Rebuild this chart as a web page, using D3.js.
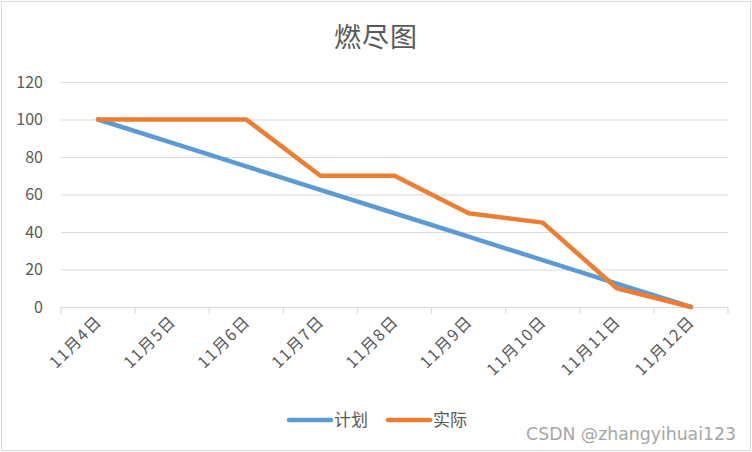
<!DOCTYPE html>
<html>
<head>
    <meta charset="utf-8">
    <title>燃尽图</title>
    <script src="https://d3js.org/d3.v7.min.js" charset="utf-8"></script>
    <style>
        body { margin: 0; background: #fff; }
        text { font-family: "Microsoft YaHei", "Noto Sans CJK SC", sans-serif; }
    </style>
</head>
<body>
    <script>
        var width = 752;
        var height = 452;

        var days = ["11月4日", "11月5日", "11月6日", "11月7日", "11月8日", "11月9日", "11月10日", "11月11日", "11月12日"];
        var plan = [100, 87.5, 75, 62.5, 50, 37.5, 25, 12.5, 0];
        var actual = [100, 100, 100, 70, 70, 50, 45, 10, 0];
        var yTicks = [0, 20, 40, 60, 80, 100, 120];
        var seriesNames = ["计划", "实际"];
        var colors = ["#5B9BD5", "#ED7D31"];

        var svg = d3.select("body").append("svg")
            .attr("width", width)
            .attr("height", height);

        // outer frame
        svg.append("rect")
            .attr("x", 1.5).attr("y", 1.5)
            .attr("width", width - 3).attr("height", height - 3)
            .attr("fill", "#fff")
            .attr("stroke", "#d9d9d9");

        var x = d3.scaleBand().domain(days).range([61, 728]);
        var y = d3.scaleLinear().domain([0, 120]).range([307, 82]);

        // title
        svg.append("text")
            .attr("x", 376).attr("y", 47)
            .attr("text-anchor", "middle")
            .attr("font-size", 27)
            .attr("letter-spacing", 1)
            .attr("fill", "#595959")
            .text("燃尽图");

        // gridlines
        svg.append("g")
            .selectAll("line")
            .data(yTicks.filter(function (d) { return d > 0; }))
            .enter().append("line")
            .attr("x1", 61).attr("x2", 728)
            .attr("y1", function (d) { return y(d) + 0.5; })
            .attr("y2", function (d) { return y(d) + 0.5; })
            .attr("stroke", "#d9d9d9")
            .attr("stroke-width", 1.2);

        // y labels
        svg.append("g")
            .selectAll("text")
            .data(yTicks)
            .enter().append("text")
            .attr("x", 43)
            .attr("y", function (d) { return y(d) + 5.5; })
            .attr("text-anchor", "end")
            .attr("font-size", 16)
            .attr("fill", "#595959")
            .text(function (d) { return d; });

        // x axis
        var gx = svg.append("g").attr("transform", "translate(0," + 307.5 + ")");
        gx.append("line")
            .attr("x1", 61).attr("x2", 728)
            .attr("stroke", "#d9d9d9").attr("stroke-width", 1.2);
        var edges = days.map(function (d) { return x(d); }).concat([x.range()[1]]);
        gx.selectAll(".tick-mark")
            .data(edges)
            .enter().append("line")
            .attr("x1", function (d) { return d; })
            .attr("x2", function (d) { return d; })
            .attr("y1", 0).attr("y2", 6)
            .attr("stroke", "#d9d9d9").attr("stroke-width", 1.2);

        gx.selectAll(".xlab")
            .data(days)
            .enter().append("text")
            .attr("transform", function (d) {
                return "translate(" + (x(d) + x.bandwidth() / 2 + 5) + ",15) rotate(-45)";
            })
            .attr("text-anchor", "end")
            .attr("font-size", 16)
            .attr("letter-spacing", 1.5)
            .attr("fill", "#595959")
            .text(function (d) { return d; });

        // lines
        var line = d3.line()
            .x(function (d, i) { return x(days[i]) + x.bandwidth() / 2; })
            .y(function (d) { return y(d); });

        [plan, actual].forEach(function (s, k) {
            svg.append("path")
                .datum(s)
                .attr("d", line)
                .attr("fill", "none")
                .attr("stroke", colors[k])
                .attr("stroke-width", 4.5)
                .attr("stroke-linejoin", "round")
                .attr("stroke-linecap", "round");
        });

        // legend
        var legendX = [289, 388];
        seriesNames.forEach(function (name, k) {
            svg.append("line")
                .attr("x1", legendX[k]).attr("x2", legendX[k] + 42)
                .attr("y1", 420).attr("y2", 420)
                .attr("stroke", colors[k])
                .attr("stroke-width", 4.5)
                .attr("stroke-linecap", "round");
            svg.append("text")
                .attr("x", legendX[k] + 45)
                .attr("y", 426)
                .attr("font-size", 17)
                .attr("fill", "#595959")
                .text(name);
        });

        // watermark
        svg.append("text")
            .attr("x", 736).attr("y", 440)
            .attr("text-anchor", "end")
            .attr("font-size", 17.3)
            .style("font-family", "'DejaVu Sans', sans-serif")
            .attr("fill", "#a6a6a6")
            .text("CSDN @zhangyihuai123");
    </script>
</body>
</html>
